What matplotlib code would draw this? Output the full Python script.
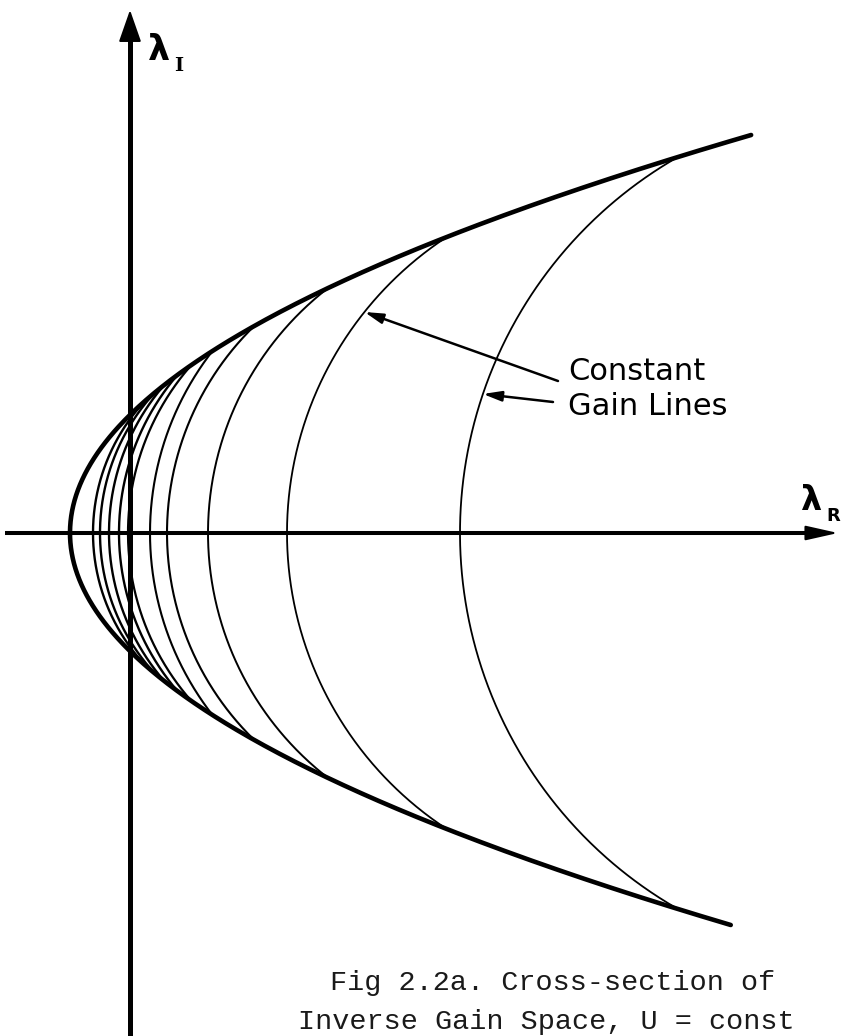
import numpy as np
import matplotlib
matplotlib.use("Agg")
import matplotlib.pyplot as plt

# Boundary of the inverse gain space: lambda_R = vertex + curvature * lambda_I**2
envelope_vertex = -0.60
envelope_curvature = 0.43
envelope_upper_end = 3.98
envelope_lower_end = -3.92

# Constant gain lines: real-axis intercept and |lambda_I| where each meets the boundary
gain_intercepts = [-0.37, -0.30, -0.21, -0.11, -0.02, 0.20, 0.37, 0.78, 1.57, 3.30]
gain_end_imag = [1.32, 1.40, 1.48, 1.58, 1.68, 1.82, 2.07, 2.45, 2.96, 3.76]
gain_widths = [1.7, 1.7, 1.7, 1.7, 1.6, 1.5, 1.5, 1.4, 1.3, 1.3]

caption_lines = ["Fig 2.2a. Cross-section of", "Inverse Gain Space, U = const"]
label_lines = ["Constant", "Gain Lines"]


def envelope(li):
    return envelope_vertex + envelope_curvature * li ** 2


def gain_arc(c, e):
    """Circle centred on the real axis through (c, 0) and the boundary point at +/-e."""
    xe = envelope(e)
    cx = (xe ** 2 + e ** 2 - c ** 2) / (2 * (xe - c))
    r = cx - c
    li = np.linspace(-e, e, 400)
    lr = cx - np.sqrt(np.maximum(r ** 2 - li ** 2, 0))
    return lr, li, cx, r


fig = plt.figure(figsize=(8.45, 10.36), dpi=100)
ax = fig.add_axes([0, 0, 1, 1])
ax.set_xlim(-1.30, 7.15)
ax.set_ylim(-5.03, 5.33)
ax.axis("off")

# Coordinate axes with arrow heads
ax.plot([0, 0], [-5.1, 5.0], color="black", lw=3.6, solid_capstyle="butt")
ax.annotate("", xy=(0, 5.23), xytext=(0, 4.9),
            arrowprops=dict(arrowstyle="-|>,head_length=20,head_width=7",
                            mutation_scale=1, color="black", lw=1.5,
                            shrinkA=0, shrinkB=0))
ax.plot([-1.25, 6.9], [0, 0], color="black", lw=2.9, solid_capstyle="butt")
ax.annotate("", xy=(7.08, 0), xytext=(6.75, 0),
            arrowprops=dict(arrowstyle="-|>,head_length=20,head_width=4.5",
                            mutation_scale=1, color="black", lw=1.5,
                            shrinkA=0, shrinkB=0))

# Boundary curve
li_env = np.linspace(envelope_lower_end, envelope_upper_end, 600)
ax.plot(envelope(li_env), li_env, color="black", lw=3.3, solid_capstyle="round")

# Constant gain lines
arcs = []
for c, e, w in zip(gain_intercepts, gain_end_imag, gain_widths):
    lr, li, cx, r = gain_arc(c, e)
    ax.plot(lr, li, color="black", lw=w)
    arcs.append((cx, r))


def point_on_arc(idx, li):
    cx, r = arcs[idx]
    return cx - np.sqrt(r ** 2 - li ** 2), li


# Axis labels
ax.text(0.18, 4.73, "λ", fontsize=25, fontweight="bold", family="DejaVu Sans",
        va="baseline", ha="left")
ax.text(0.44, 4.62, "I", fontsize=14, fontweight="bold", family="DejaVu Serif",
        va="baseline", ha="left")
ax.text(6.70, 0.23, "λ", fontsize=24, fontweight="bold", family="DejaVu Sans",
        va="baseline", ha="left")
ax.text(6.96, 0.12, "R", fontsize=13, fontweight="bold", family="DejaVu Sans",
        va="baseline", ha="left")

# Label with pointers to two of the gain lines
ax.text(4.38, 1.53, label_lines[0], fontsize=22, family="DejaVu Sans",
        va="baseline", ha="left")
ax.text(4.38, 1.18, label_lines[1], fontsize=22, family="DejaVu Sans",
        va="baseline", ha="left")
arrow_kw = dict(arrowstyle="-|>,head_length=11,head_width=3",
                mutation_scale=1, color="black", lw=1.8, shrinkA=0, shrinkB=0)
ax.annotate("", xy=point_on_arc(8, 2.21), xytext=(4.28, 1.52), arrowprops=arrow_kw)
ax.annotate("", xy=point_on_arc(9, 1.39), xytext=(4.23, 1.31), arrowprops=arrow_kw)

# Caption
ax.text(2.00, -4.57, caption_lines[0], fontsize=20.5, family="Liberation Mono",
        va="baseline", ha="left", color="#1a1a1a")
ax.text(1.68, -4.96, caption_lines[1], fontsize=20.5, family="Liberation Mono",
        va="baseline", ha="left", color="#1a1a1a")

fig.savefig("out.png", dpi=100)
